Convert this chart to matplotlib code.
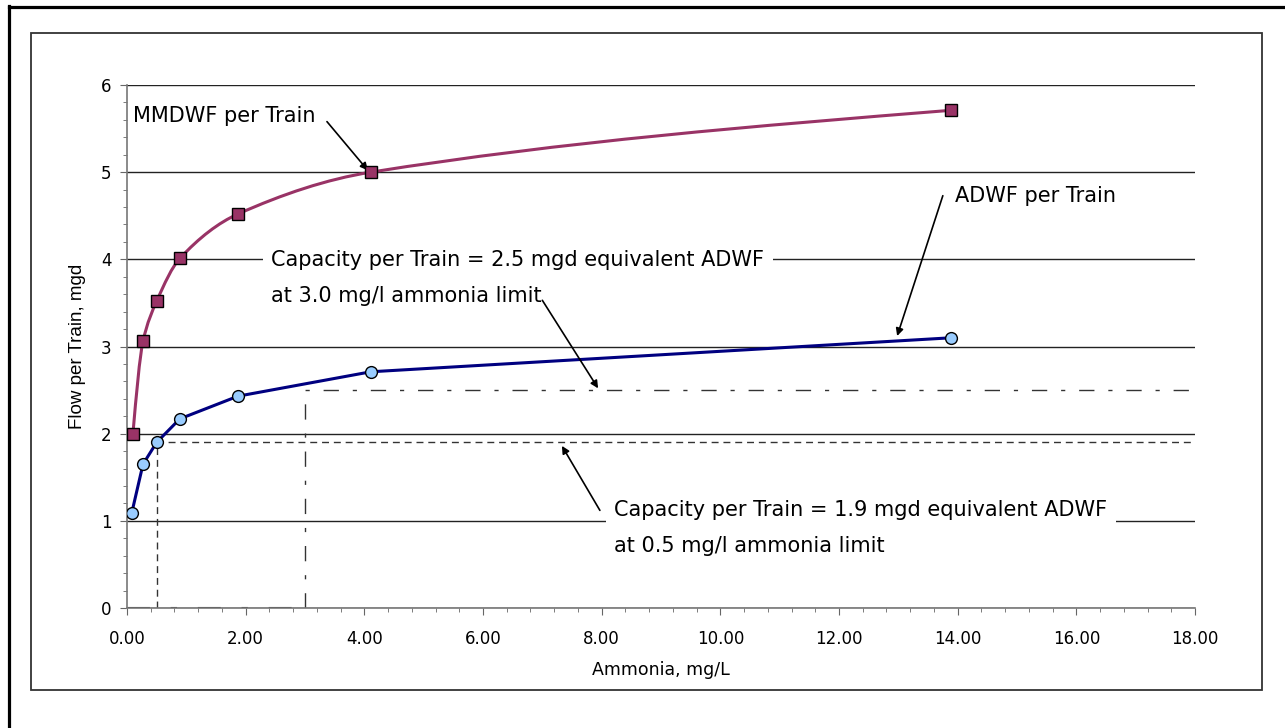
import numpy as np
import matplotlib.pyplot as plt
from matplotlib.path import Path
from matplotlib.patches import PathPatch, Rectangle
from matplotlib.lines import Line2D

# flow per train vs. ammonia
ammonia = [0.10, 0.27, 0.50, 0.89, 1.87, 4.11, 13.89]
mmdwf = [2.00, 3.06, 3.52, 4.01, 4.52, 5.00, 5.71]
ammonia_adwf = [0.08, 0.27, 0.50, 0.89, 1.87, 4.11, 13.89]
adwf = [1.09, 1.65, 1.90, 2.17, 2.43, 2.71, 3.10]

# capacity limits: (ammonia limit, flow)
cap_hi = (3.0, 2.5)
cap_lo = (0.5, 1.9)

xticks = np.arange(0, 18.01, 2)
yticks = np.arange(0, 6.01, 1)

PLUM = '#993366'
NAVY = '#000080'
LIGHTBLUE = '#99CCFF'


def smooth_path(xs, ys):
    # monotone cubic through the points, drawn as Bezier segments
    x = np.asarray(xs, float)
    y = np.asarray(ys, float)
    h = np.diff(x)
    d = np.diff(y) / h
    n = len(x)
    m = np.zeros(n)
    for k in range(1, n - 1):
        if d[k - 1] * d[k] > 0:
            m[k] = 2 / (1 / d[k - 1] + 1 / d[k])
    # natural end conditions
    m[0] = (3 * d[0] - m[1]) / 2
    m[-1] = (3 * d[-1] - m[-2]) / 2
    verts = [(x[0], y[0])]
    codes = [Path.MOVETO]
    for k in range(n - 1):
        verts += [(x[k] + h[k] / 3, y[k] + m[k] * h[k] / 3),
                  (x[k + 1] - h[k] / 3, y[k + 1] - m[k + 1] * h[k] / 3),
                  (x[k + 1], y[k + 1])]
        codes += [Path.CURVE4] * 3
    return Path(verts, codes)


fig = plt.figure(figsize=(12.85, 7.28), dpi=100)
W, H = 1285, 728
ax = fig.add_axes([127 / W, 1 - 608 / H, 1068 / W, 523 / H])

# frame around the chart and the page edge
fig.add_artist(Rectangle((31 / W, 1 - 690 / H), 1231 / W, 657 / H, transform=fig.transFigure,
                         fill=False, edgecolor='#333333', lw=1.3))
fig.add_artist(Line2D([9 / W, 9 / W], [0, 1 - 6 / H], transform=fig.transFigure, color='black', lw=2.3))
fig.add_artist(Line2D([9 / W, 1], [1 - 7 / H, 1 - 7 / H], transform=fig.transFigure, color='black', lw=2.3))

ax.set_xlim(0, 18)
ax.set_ylim(0, 6)
ax.set_xticks(xticks)
ax.set_xticklabels([f"{v:.2f}" for v in xticks])
ax.set_yticks(yticks)
ax.set_yticklabels([f"{v:.0f}" for v in yticks])
ax.set_xticks(np.arange(0, 18.01, 0.4), minor=True)
ax.set_yticks(np.arange(0, 6.01, 0.2), minor=True)
ax.tick_params(which='major', length=5, color='#666666', labelsize=12)
ax.tick_params(axis='x', which='major', pad=11)
ax.tick_params(axis='y', which='major', pad=6)
ax.tick_params(which='minor', length=3, color='#666666')
for s in ['top', 'right']:
    ax.spines[s].set_visible(False)
for s in ['left', 'bottom']:
    ax.spines[s].set_color('#777777')
    ax.spines[s].set_linewidth(1.2)
ax.yaxis.grid(True, which='major', color='#222222', lw=1)
ax.set_axisbelow(True)

ax.set_xlabel('Ammonia, mg/L', fontsize=12.5, labelpad=9)
ax.set_ylabel('Flow per Train, mgd', fontsize=13.5, family='Liberation Sans', labelpad=11)

# capacity guide lines
ax.plot([cap_hi[0], cap_hi[0], 18], [0, cap_hi[1], cap_hi[1]], color='#333333', lw=1,
        linestyle=(0, (11, 10, 3, 10)), zorder=2)
ax.plot([0, cap_hi[0]], [0, 0], color='#222222', lw=1.5, linestyle=(0, (11, 10, 3, 10)), zorder=2)
ax.plot([cap_lo[0], cap_lo[0], 18], [0, cap_lo[1], cap_lo[1]], color='#333333', lw=1,
        linestyle=(0, (5, 3.5)), zorder=2)

# series
ax.add_patch(PathPatch(smooth_path(ammonia, mmdwf), fill=False, edgecolor=PLUM, lw=2.2, zorder=3))
ax.plot(ammonia, mmdwf, linestyle='none', marker='s', ms=8, mfc=PLUM, mec='black', mew=1, zorder=4)
ax.plot(ammonia_adwf, adwf, color=NAVY, lw=2.2, marker='o', ms=8.5, mfc=LIGHTBLUE,
        mec='black', mew=1, zorder=4)

arrow = dict(arrowstyle='-|>', color='black', lw=1.2, mutation_scale=11, shrinkA=0, shrinkB=0)
txt = dict(fontsize=15, va='center', ha='left')

ax.text(0.1, 5.64, 'MMDWF per Train', **txt)
ax.annotate('', xy=(4.06, 5.02), xytext=(3.37, 5.58), arrowprops=arrow)

ax.text(13.96, 4.73, 'ADWF per Train', **txt)
ax.annotate('', xy=(12.98, 3.12), xytext=(13.75, 4.73), arrowprops=arrow)

ax.text(2.43, 3.786, 'Capacity per Train = 2.5 mgd equivalent ADWF\nat 3.0 mg/l ammonia limit',
        linespacing=2.0, zorder=5, bbox=dict(facecolor='white', edgecolor='none', pad=6), **txt)
ax.annotate('', xy=(7.94, 2.52), xytext=(7.0, 3.53), arrowprops=arrow, zorder=6)

ax.text(8.21, 0.923, 'Capacity per Train = 1.9 mgd equivalent ADWF\nat 0.5 mg/l ammonia limit',
        linespacing=2.0, zorder=5, bbox=dict(facecolor='white', edgecolor='none', pad=6), **txt)
ax.annotate('', xy=(7.33, 1.86), xytext=(7.97, 1.12), arrowprops=arrow, zorder=6)

fig.savefig('out.png', dpi=100)
